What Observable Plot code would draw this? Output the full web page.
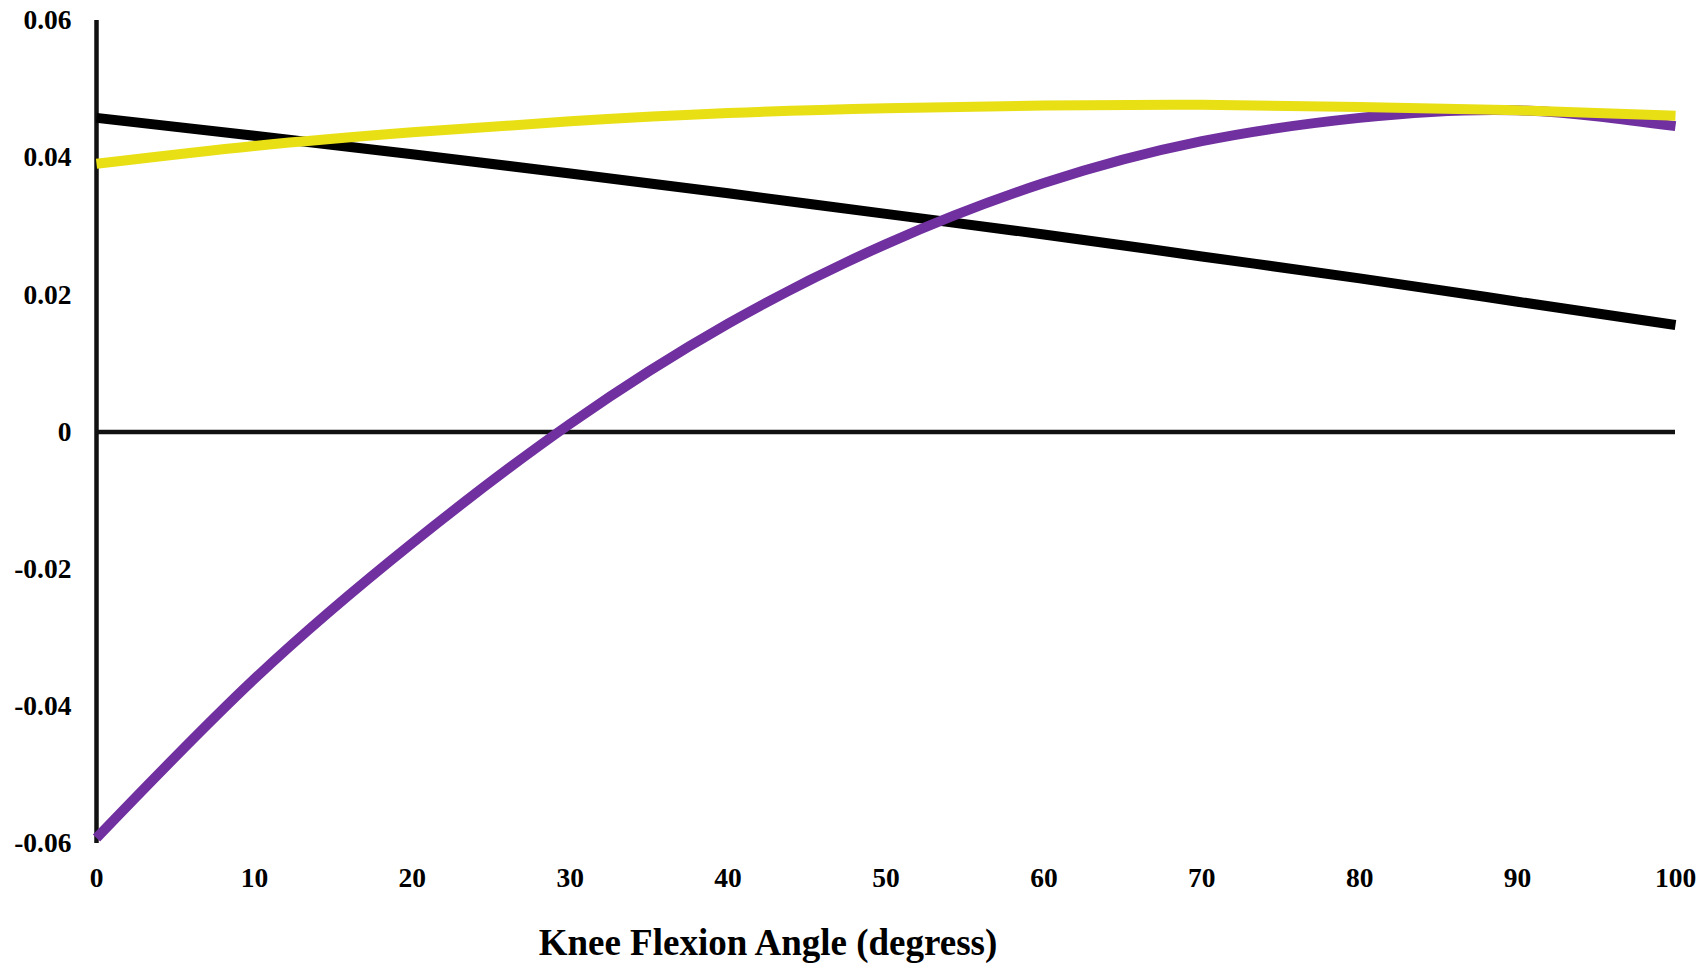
<!DOCTYPE html>
<html><head><meta charset="utf-8">
<script src="https://cdn.jsdelivr.net/npm/d3@7"></script>
<script src="https://cdn.jsdelivr.net/npm/@observablehq/plot@0.6"></script>
<style>html,body{margin:0;padding:0;background:#fff} svg{display:block}</style>
</head><body><div id="chart"></div>
<script>
const angles = [0, 10, 20, 30, 40, 50, 60, 70, 80, 90, 100];
const blackValues = [0.0458, 0.0432, 0.0405, 0.0377, 0.0348, 0.0318, 0.0288, 0.0256, 0.0224, 0.0190, 0.0156];
const yellowValues = [0.0391, 0.0417, 0.0437, 0.0453, 0.0465, 0.0472, 0.0476, 0.0477, 0.0474, 0.0469, 0.0461];
const purpleValues = [-0.0592, -0.0360, -0.0162, 0.0012, 0.0158, 0.0274, 0.0363, 0.0424, 0.0458, 0.0469, 0.0446];
const yTicks = [-0.06, -0.04, -0.02, 0, 0.02, 0.04, 0.06];
const xTicks = [0, 10, 20, 30, 40, 50, 60, 70, 80, 90, 100];
const xLabel = "Knee Flexion Angle (degress)";

const blackData = angles.map((a, i) => ({angle: a, value: blackValues[i]}));
const yellowData = angles.map((a, i) => ({angle: a, value: yellowValues[i]}));
const purpleData = angles.map((a, i) => ({angle: a, value: purpleValues[i]}));

const font = "'Liberation Serif', 'Times New Roman', Times, serif";

const plot = Plot.plot({
  width: 1701,
  height: 964,
  marginLeft: 96,
  marginRight: 26,
  marginTop: 20,
  marginBottom: 121,
  style: {fontFamily: font, fontSize: "27.5px", fontWeight: "bold", color: "#000", background: "#fff"},
  x: {domain: [0, 100]},
  y: {domain: [-0.06, 0.06]},
  marks: [
    Plot.axisY({ticks: yTicks, tickSize: 0, tickPadding: 25, label: null,
      tickFormat: d => d === 0 ? "0" : d.toFixed(2), fontSize: 27.5, fontWeight: "bold"}),
    Plot.axisX({ticks: xTicks, tickSize: 0, tickPadding: 24, label: null,
      tickFormat: d => String(d), fontSize: 27.5, fontWeight: "bold"}),
    Plot.ruleX([0], {stroke: "#111", strokeWidth: 4.5}),
    Plot.ruleY([0], {stroke: "#111", strokeWidth: 4.5}),
    Plot.line(blackData, {x: "angle", y: "value", stroke: "#000", strokeWidth: 10, curve: "natural", strokeLinecap: "butt"}),
    Plot.line(purpleData, {x: "angle", y: "value", stroke: "#7030a0", strokeWidth: 10, curve: "natural", strokeLinecap: "butt"}),
    Plot.line(yellowData, {x: "angle", y: "value", stroke: "#e8df15", strokeWidth: 10, curve: "natural", strokeLinecap: "butt"})
  ]
});

d3.select(plot).append("text")
  .attr("x", 768)
  .attr("y", 955)
  .attr("text-anchor", "middle")
  .style("font-family", font)
  .style("font-size", "37px")
  .style("font-weight", "bold")
  .attr("fill", "#000")
  .text(xLabel);

document.getElementById("chart").appendChild(plot);
</script>
</body></html>
